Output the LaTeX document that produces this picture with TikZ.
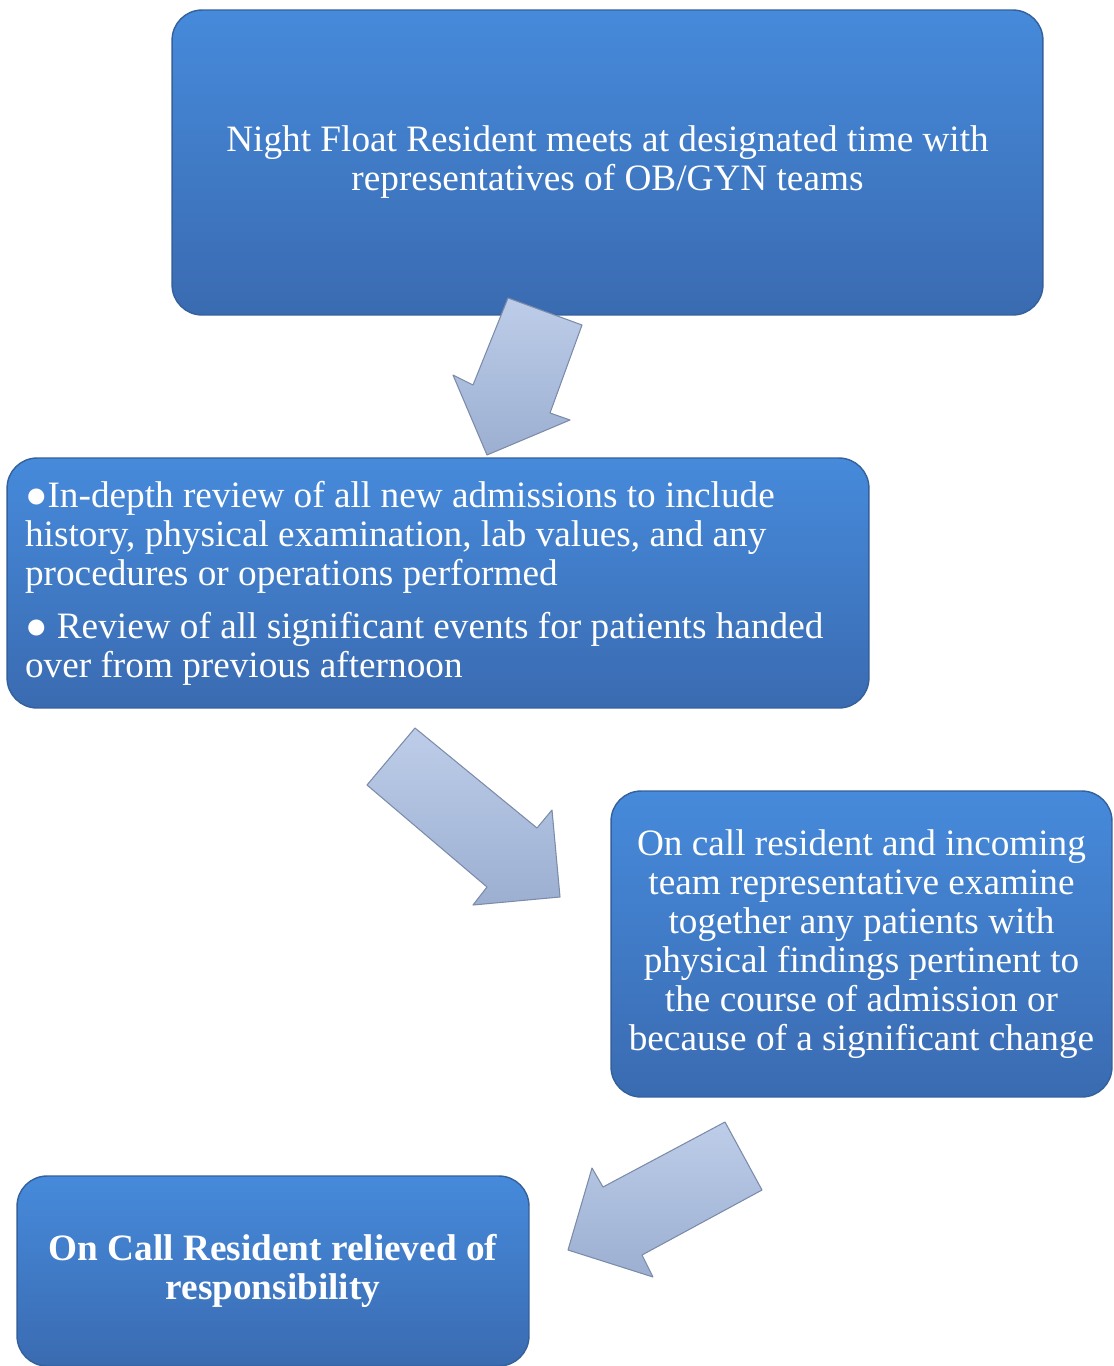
\documentclass[tikz,border=0pt]{standalone}
\usepackage{fontspec}
\setmainfont{Liberation Serif}

\definecolor{boxtop}{HTML}{468ADB}
\definecolor{boxbot}{HTML}{3A6BB1}
\definecolor{boxedge}{HTML}{34609C}
\definecolor{arrowtop}{HTML}{BDCDE9}
\definecolor{arrowbot}{HTML}{9CAFD1}
\definecolor{arrowedge}{HTML}{7B8BA9}

\begin{document}
\begin{tikzpicture}[x=0.02cm, y=-0.02cm,
    box/.style = {rounded corners=0.6cm, top color=boxtop, bottom color=boxbot, draw=boxedge, line width=0.8pt, text=white, align=center, inner sep=0pt, font=\fontsize{21.2}{22.2}\selectfont},
    blockarrow/.style = {draw=arrowedge, line width=0.6pt, top color=arrowtop, bottom color=arrowbot, line join=round}]
    \useasboundingbox (0,0) rectangle (1114,1366);

    \node[box, minimum width=17.42cm, minimum height=6.1cm] (meet) at (607.5,162.5) {Night Float Resident meets at designated time with\\representatives of OB/GYN teams};
    \node[box, minimum width=17.24cm, minimum height=5cm, text width=16.52cm, align=flush left] (review) at (438,583) {●In-depth review of all new admissions to include\\history, physical examination, lab values, and any\\procedures or operations performed\\[8pt]● Review of all significant events for patients handed\\over from previous afternoon};
    \node[box, minimum width=10.02cm, minimum height=6.12cm] (examine) at (861.5,944) {On call resident and incoming\\team representative examine\\together any patients with\\physical findings pertinent to\\the course of admission or\\because of a significant change};
    \node[box, minimum width=10.24cm, minimum height=3.8cm, font=\fontsize{21.2}{22.2}\selectfont\bfseries] (relieved) at (273,1271) {On Call Resident relieved of\\responsibility};

    % block arrows between the steps
    \draw[blockarrow] (508,298) -- (582,325) -- (550,413) -- (570,420) -- (487,455) -- (453,375) -- (473,385) -- cycle;
    \draw[blockarrow] (415,728) -- (367,785) -- (487,887) -- (473,905) -- (560,897) -- (552,810) -- (537,828) -- cycle;
    \draw[blockarrow] (725,1122) -- (762,1190) -- (642,1255) -- (653,1277) -- (568,1250) -- (592,1168) -- (603,1187) -- cycle;
\end{tikzpicture}
\end{document}
